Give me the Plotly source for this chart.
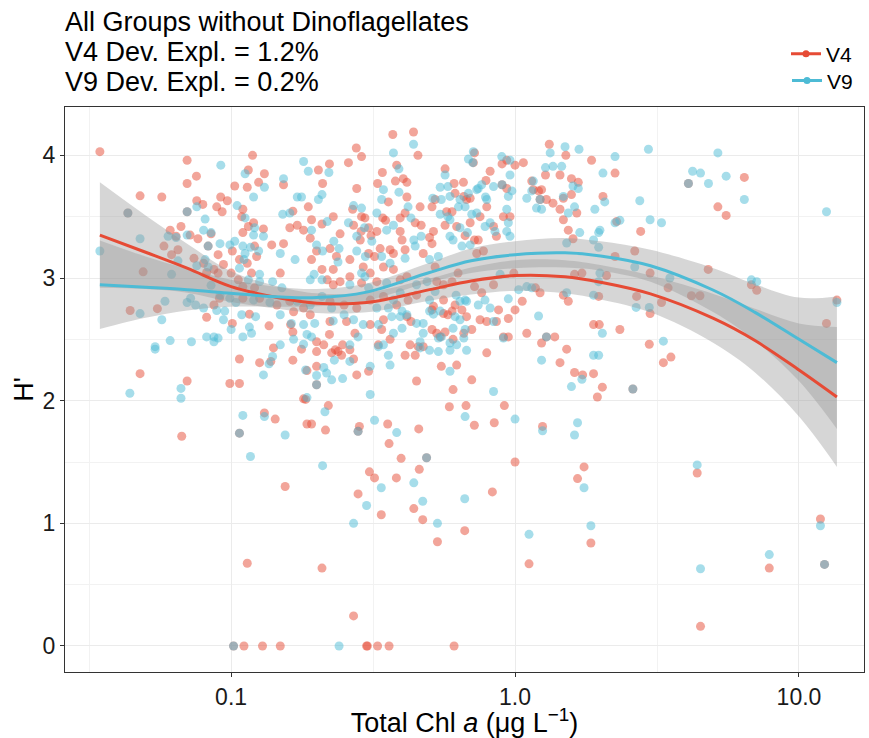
import plotly.graph_objects as go

# ---------------- data ----------------
# V4 points: (Total Chl a, H')
v4_points = [
    (0.0345,4.03),(0.0478,3.67),(0.057,3.66),(0.0433,3.53),(0.058,3.26),(0.049,3.05),(0.0441,2.735),(0.055,2.75),(0.0478,2.22),(0.061,3.39),
    (0.070,3.96),(0.070,3.77),(0.0755,3.83),(0.119,4.00),(0.115,3.88),(0.131,3.85),(0.125,3.78),(0.114,3.74),(0.103,3.75),(0.153,3.76),
    (0.203,3.88),(0.222,3.93),(0.259,3.94),(0.276,4.06),(0.288,3.99),(0.21,3.77),(0.277,3.73),(0.0757,3.63),(0.0795,3.60),(0.0919,3.66),
    (0.097,3.63),(0.089,3.58),(0.093,3.54),(0.11,3.56),(0.109,3.50),(0.115,3.42),(0.12,3.45),(0.130,3.40),(0.0666,3.42),(0.0717,3.35),
    (0.0764,3.32),(0.085,3.36),(0.083,3.26),(0.080,3.12),(0.101,3.22),(0.107,3.15),(0.121,3.26),(0.123,3.175),(0.139,3.27),(0.153,3.28),
    (0.161,3.41),(0.171,3.43),(0.18,3.39),(0.19,3.325),(0.165,3.545),(0.187,3.58),(0.192,3.475),(0.209,3.44),(0.242,3.36),(0.229,3.50),
    (0.192,3.15),(0.2,3.22),(0.223,3.24),(0.235,3.175),(0.262,3.15),(0.27,3.43),(0.287,3.38),(0.285,3.31),(0.288,3.50),(0.268,3.56),
    (0.11,3.37),(0.09,3.19),(0.074,3.16),(0.064,3.34),(0.0617,3.19),(0.065,3.23),(0.070,3.54),
    (0.149,3.04),(0.087,3.07),(0.1,3.04),(0.106,2.985),(0.11,2.93),(0.121,2.92),(0.091,2.835),(0.087,2.78),(0.11,2.835),(0.126,2.835),
    (0.145,2.78),(0.161,2.81),(0.082,2.68),(0.101,2.63),(0.116,2.705),(0.136,2.61),(0.162,2.62),(0.165,2.56),(0.166,2.725),(0.18,2.755),
    (0.19,2.70),(0.223,2.81),(0.25,2.78),(0.277,2.755),(0.223,2.645),(0.255,2.645),(0.273,2.55),(0.209,3.07),(0.229,3.07),(0.218,2.985),
    (0.229,2.945),(0.242,2.97),(0.262,3.01),(0.288,2.96),(0.292,3.09),(0.09,3.04),(0.082,3.045),(0.094,3.11),(0.118,3.04),(0.114,3.12),
    (0.107,2.34),(0.099,2.14),(0.107,2.14),(0.07,2.16),(0.126,2.31),(0.138,2.32),(0.141,2.43),(0.177,2.42),(0.2,2.48),(0.2,2.40),
    (0.212,2.455),(0.222,2.54),(0.226,2.39),(0.233,2.415),(0.238,2.40),(0.247,2.455),(0.245,2.37),(0.262,2.415),(0.277,2.21),(0.165,2.33),
    (0.185,2.245),(0.2,2.28),(0.2,2.13),(0.183,2.01),(0.27,2.34),
    (0.371,4.17),(0.439,4.19),(0.455,4.0),(0.341,3.86),(0.383,3.92),(0.379,3.79),(0.404,3.81),(0.328,3.77),(0.416,3.78),(0.416,3.66),
    (0.358,3.62),(0.463,3.58),(0.305,3.41),(0.296,3.49),(0.342,3.49),(0.35,3.47),(0.311,3.345),(0.326,3.38),(0.394,3.49),(0.41,3.53),
    (0.445,3.45),(0.467,3.43),(0.5,3.33),(0.394,3.38),(0.4,3.31),(0.363,3.23),(0.335,3.24),(0.305,3.20),(0.32,3.175),(0.373,3.20),
    (0.41,3.23),(0.475,3.20),(0.51,3.28),(0.523,3.64),(0.51,3.58),(0.567,3.89),(0.61,3.77),(0.658,3.78),(0.615,3.69),(0.713,3.94),
    (0.72,4.02),(0.817,3.87),(0.79,3.795),(0.66,3.665),(0.675,3.64),(0.574,3.54),(0.6,3.54),(0.753,3.50),(0.695,3.45),(0.623,3.42),
    (0.567,3.43),(0.516,3.38),(0.667,3.345),(0.72,3.31),(0.742,3.31),(0.733,3.20),(0.774,3.22),(0.795,3.58),(0.91,3.50),(0.96,3.50),
    (0.84,3.42),(0.86,3.34),(0.935,3.96),(1.0,3.92),(0.9,3.76),(1.07,3.94),(1.32,4.09),(1.51,4.0),(1.28,3.84),(1.44,3.84),
    (1.16,3.72),(1.24,3.72),(1.225,3.64),(1.29,3.64),(1.36,3.61),(1.44,3.56),(1.48,3.475),(0.9,3.93),(0.695,3.65),(1.145,3.79),
    (1.21,3.71),(0.935,3.73),
    (0.309,3.04),(0.326,2.97),(0.394,2.985),(0.416,3.01),(0.53,2.97),(0.56,2.945),(0.344,3.09),(0.373,3.07),(0.523,3.09),(0.516,2.77),
    (0.56,2.82),(0.6,2.97),(0.63,3.04),(0.72,2.93),(0.763,2.88),(0.84,2.945),(0.99,3.04),(0.45,2.86),(0.42,2.82),(0.344,2.85),
    (0.309,2.82),(0.383,2.78),(1.18,2.92),(1.225,2.88),(1.06,2.81),(1.0,2.74),(1.48,2.86),(1.29,2.52),(1.38,2.52),(1.24,2.47),
    (1.44,2.31),(0.947,2.52),(0.795,2.39),(0.86,2.645),(0.947,2.67),(0.753,2.66),(0.795,2.645),(0.675,2.685),(0.545,2.52),(0.567,2.56),
    (0.51,2.58),(0.475,2.44),(0.416,2.685),(0.43,2.645),(0.339,2.58),(0.344,2.66),(0.363,2.50),(0.427,2.455),(0.41,2.37),(0.305,2.24),
    (0.45,2.16),(0.55,2.28),(0.623,2.29),(0.704,2.17),(0.605,2.09),(0.309,2.62),(0.33,2.455),(0.456,2.44),(0.53,2.55),(0.56,2.71),
    (0.58,2.70),(0.6,2.73),(0.615,2.78),(0.65,2.74),(0.605,2.50),(0.66,2.55),(0.704,2.58),(0.875,2.74),(0.91,2.52),(1.1,2.55),
    (0.51,2.74),(0.445,2.37),
    (1.86,3.96),(2.25,3.855),(1.58,3.81),(1.67,3.78),(1.58,3.68),(1.65,3.53),(2.04,3.665),(1.54,3.39),(1.6,3.32),(2.28,3.46),
    (2.77,3.38),(2.25,3.175),(2.64,3.22),(2.99,3.04),(3.46,2.92),(4.79,3.07),(4.18,2.855),(4.48,2.855),(1.62,3.03),(1.72,3.04),
    (1.54,2.81),(1.97,2.85),(2.68,2.85),(2.99,2.71),(3.28,2.80),(1.89,2.62),(1.98,2.62),(2.34,2.58),(1.52,2.42),(2.97,2.46),
    (3.33,2.31),(3.54,2.355),(1.62,2.23),(1.73,2.21),(1.89,2.22),(2.03,2.11),(1.95,2.03),(2.1,3.02),(2.6,2.095),(1.48,3.65),
    (5.18,3.58),(5.54,3.51),(6.42,3.82),(4.08,3.77),(6.8,2.945),(7.1,2.90),(13.6,2.82),(12.5,2.63),
    (0.107,1.735),(0.067,1.71),(0.131,1.90),(0.143,1.85),(0.155,1.30),(0.114,0.675),(0.209,0.635),(0.18,2.015),(0.22,1.96),(0.185,1.81),
    (0.192,1.81),(0.215,1.76),(0.27,0.245),(0.28,1.24),(0.283,1.79),(0.28,1.75),(0.307,1.42),(0.32,1.37),(0.338,1.07),(0.356,1.81),
    (0.36,1.65),(0.397,1.53),(0.382,1.37),(0.458,1.77),(0.488,1.535),(0.46,1.44),(0.44,1.12),(0.473,1.03),(0.533,0.85),(0.587,1.95),
    (0.672,1.96),(0.917,1.96),(0.719,1.80),(0.845,1.82),(1.25,1.79),(1.0,1.50),(1.75,1.46),(1.66,1.365),(0.832,1.256),(0.665,0.94),
    (1.12,0.67),(1.85,0.84),(4.38,1.41),(4.5,0.16),(7.86,0.635),(11.9,1.035),(12.3,0.665),
    (0.102,0),(0.111,0),(0.129,0),(0.149,0),(0.30,0),(0.302,0),(0.328,0),(0.36,0),(0.61,0),
]

# V9 points: (Total Chl a, H')
v9_points = [
    (0.0345,3.22),(0.0433,3.53),(0.0478,3.32),(0.0478,2.71),(0.057,2.66),(0.054,2.44),(0.054,2.42),(0.044,2.06),(0.0585,2.81),(0.06,3.34),
    (0.061,2.49),(0.0617,3.03),
    (0.092,3.92),(0.112,3.85),(0.105,3.59),(0.112,3.49),(0.11,3.26),(0.112,3.20),(0.12,3.35),(0.12,3.66),(0.131,3.74),(0.152,3.52),
    (0.153,3.81),(0.171,3.66),(0.177,3.66),(0.161,3.53),(0.18,3.95),(0.187,3.87),(0.221,3.86),(0.203,3.64),(0.209,3.68),(0.149,3.20),
    (0.21,3.22),(0.23,3.30),(0.27,3.59),(0.277,3.34),(0.259,3.45),(0.0757,3.58),(0.081,3.48),(0.08,3.39),(0.085,3.37),(0.083,3.26),
    (0.081,3.15),(0.0914,3.28),(0.065,3.14),(0.07,3.35),(0.07,3.54),(0.064,3.33),(0.103,3.30),(0.099,3.27),(0.117,3.25),(0.111,3.15),
    (0.121,3.41),(0.125,3.22),(0.13,3.34),(0.168,3.15),(0.192,3.39),(0.218,3.46),(0.295,3.41),(0.2,3.27),(0.24,3.24),(0.238,3.13),
    (0.277,3.22),(0.297,3.175),(0.288,3.57),
    (0.126,3.03),(0.14,2.97),(0.19,2.985),(0.209,2.985),(0.196,3.03),(0.262,2.945),(0.288,3.04),(0.107,3.08),(0.115,2.985),(0.126,2.97),
    (0.151,2.92),(0.072,2.835),(0.08,2.755),(0.099,2.835),(0.104,2.80),(0.12,2.82),(0.137,2.80),(0.149,2.70),(0.171,2.81),(0.19,2.78),
    (0.209,2.85),(0.226,2.755),(0.25,2.70),(0.27,2.66),(0.292,2.62),(0.163,2.63),(0.18,2.62),(0.197,2.63),(0.094,2.66),(0.1,2.58),
    (0.095,2.73),(0.089,2.735),(0.116,2.60),(0.118,2.55),(0.11,2.52),(0.109,2.70),(0.122,2.685),(0.082,2.52),(0.087,2.52),(0.087,2.48),
    (0.09,2.51),(0.0725,2.48),(0.0666,2.10),(0.0666,2.02),(0.13,2.21),(0.136,2.30),(0.14,2.36),(0.149,2.455),(0.166,2.50),(0.18,2.46),
    (0.185,2.54),(0.192,2.52),(0.183,2.25),(0.2,2.205),(0.212,2.27),(0.217,2.225),(0.226,2.17),(0.247,2.18),(0.231,2.33),(0.262,2.32),
    (0.185,2.025),(0.075,2.78),(0.07,2.80),(0.085,2.94),(0.0914,2.86),(0.229,2.65),(0.262,2.455),(0.28,2.52),(0.0757,3.10),(0.083,3.09),
    (0.2,2.13),
    (0.373,4.02),(0.439,4.09),(0.39,3.89),(0.344,3.72),(0.39,3.70),(0.339,3.64),(0.42,3.58),(0.326,3.53),(0.353,3.39),(0.373,3.43),
    (0.43,3.49),(0.467,3.34),(0.44,3.31),(0.313,3.30),(0.339,3.175),(0.363,3.12),(0.41,3.16),(0.445,3.26),(0.5,3.15),(0.537,3.175),
    (0.513,3.65),(0.55,3.64),(0.59,3.665),(0.567,3.84),(0.685,3.69),(0.64,3.64),(0.58,3.745),(0.545,3.74),(0.685,3.97),(0.713,4.03),
    (0.742,3.73),(0.763,3.76),(0.632,3.58),(0.667,3.58),(0.704,3.52),(0.733,3.53),(0.64,3.41),(0.68,3.37),(0.59,3.475),(0.545,3.52),
    (0.58,3.50),(0.59,3.34),(0.605,3.31),(0.65,3.26),(0.695,3.27),(0.784,3.42),(0.817,3.45),(0.795,3.64),(0.84,3.745),(0.85,3.38),
    (0.935,3.38),(0.96,3.34),(0.935,3.56),(0.947,3.45),(0.898,3.99),(0.96,3.96),(0.9,3.76),(0.975,3.71),(1.33,4.02),(1.5,4.07),
    (1.28,3.90),(1.36,3.91),(1.46,3.91),(1.16,3.79),(1.145,3.71),(1.1,3.65),(1.225,3.64),(1.19,3.57),(1.24,3.56),(1.48,3.665),
    (0.71,3.94),(0.96,3.84),(0.733,3.72),(0.787,3.66),(0.947,3.665),
    (0.296,3.01),(0.353,2.96),(0.45,2.945),(0.49,2.97),(0.5,2.82),(0.523,2.89),(0.62,2.86),(0.667,2.82),(0.784,2.82),(0.886,3.03),
    (0.394,2.88),(0.373,2.82),(0.326,2.755),(0.358,2.755),(1.21,2.69),(1.29,2.52),(1.24,2.33),(0.91,2.51),(0.84,2.075),(0.947,2.83),
    (1.03,2.905),(1.1,2.93),(0.742,2.78),(0.615,2.685),(0.64,2.66),(0.667,2.58),(0.59,2.47),(0.623,2.455),(0.537,2.51),(0.463,2.43),
    (0.45,2.63),(0.475,2.63),(0.368,2.685),(0.394,2.685),(0.33,2.44),(0.344,2.455),(0.4,2.59),(0.358,2.37),(0.363,2.29),(0.309,2.28),
    (0.59,2.24),(0.675,2.41),(0.309,2.05),(0.33,2.62),(0.373,2.55),(0.4,2.73),(0.416,2.70),(0.475,2.55),(0.463,2.48),(0.55,2.52),
    (0.59,2.41),(0.605,2.59),(0.64,2.81),(0.675,2.81),(0.66,2.51),(0.817,2.755),(0.84,2.645),(1.145,2.92),(0.545,2.73),(0.516,2.705),
    (0.5,2.73),(0.5,2.41),(0.537,2.40),(0.305,2.92),
    (1.68,4.05),(2.25,3.99),(2.95,4.05),(2.04,3.855),(1.6,3.75),(1.67,3.73),(2.07,3.62),(1.62,3.58),(1.54,3.53),(1.91,3.56),
    (2.75,3.63),(2.99,3.475),(3.28,3.45),(2.25,3.45),(2.34,3.47),(1.69,3.37),(1.89,3.31),(1.97,3.37),(1.99,3.39),(1.52,3.285),
    (1.97,3.25),(2.64,3.09),(3.51,3.0),(1.99,3.04),(1.97,2.97),(1.52,2.88),(1.89,2.86),(2.67,2.76),(2.97,2.76),(2.03,2.55),
    (3.33,2.485),(1.89,2.37),(1.97,2.37),(1.72,2.175),(1.58,2.115),(2.6,2.095),
    (5.18,4.02),(4.22,3.87),(4.5,3.855),(4.8,3.77),(5.54,3.83),(6.42,3.64),(12.5,3.54),(6.8,2.985),(7.1,2.97),(13.6,2.80),(4.08,3.77),
    (0.11,1.88),(0.107,1.735),(0.117,1.545),(0.131,1.87),(0.155,1.72),(0.214,1.91),(0.21,1.47),(0.27,1.0),(0.32,1.84),(0.338,1.29),
    (0.30,1.145),(0.383,1.74),(0.44,1.33),(0.473,1.18),(0.533,1.0),(0.665,1.20),(1.0,1.85),(1.25,1.755),(1.66,1.82),(1.62,1.72),
    (1.75,1.29),(1.12,0.91),(1.85,0.98),(4.38,1.476),(4.5,0.63),(7.86,0.745),(11.9,0.98),(0.667,1.87),(0.28,1.75),(0.488,1.535),
    (12.3,0.665),(0.102,0),(0.24,0),
]

# GAM smooth curves and 95% band half-widths
fit_chl = [0.0345, 0.05, 0.07, 0.1, 0.15, 0.2, 0.3, 0.5, 0.7, 1.0, 1.5, 2, 3, 5, 7, 10, 13.6]
v4_fit  = [3.35, 3.21, 3.08, 2.93, 2.835, 2.795, 2.80, 2.905, 2.975, 3.02, 3.01, 2.965, 2.87, 2.67, 2.49, 2.25, 2.03]
v4_half = [0.43, 0.30, 0.20, 0.125, 0.09, 0.08, 0.08, 0.09, 0.11, 0.125, 0.135, 0.14, 0.15, 0.20, 0.26, 0.38, 0.57]
v9_fit  = [2.945, 2.925, 2.905, 2.875, 2.845, 2.84, 2.885, 3.045, 3.14, 3.19, 3.205, 3.18, 3.10, 2.90, 2.72, 2.50, 2.31]
v9_half = [0.36, 0.25, 0.17, 0.11, 0.08, 0.07, 0.07, 0.08, 0.10, 0.11, 0.12, 0.12, 0.13, 0.18, 0.23, 0.34, 0.54]

series_names = ["V4", "V9"]
title_lines = ["All Groups without Dinoflagellates",
               "V4 Dev. Expl. = 1.2%",
               "V9 Dev. Expl. = 0.2%"]
x_tickvals = [0.1, 1, 10]
x_ticktext = ["0.1", "1.0", "10.0"]
y_tickvals = [0, 1, 2, 3, 4]

# ---------------- styling ----------------
RED = "#E64B35"
BLUE = "#4DBBD5"
BAND = "rgba(153,153,153,0.4)"
FONT = "Liberation Sans, Arial, Helvetica, sans-serif"

fig = go.Figure()

for name, pts, col in [("V4", v4_points, RED), ("V9", v9_points, BLUE)]:
    xs = [p[0] for p in pts]
    ys = [p[1] for p in pts]
    fig.add_trace(go.Scatter(x=xs, y=ys, mode="markers", showlegend=False,
                             marker=dict(size=9, color=col, opacity=0.5, line=dict(width=0)),
                             hoverinfo="skip"))

# confidence bands
for fit, half in [(v4_fit, v4_half), (v9_fit, v9_half)]:
    lo = [f - h for f, h in zip(fit, half)]
    hi = [f + h for f, h in zip(fit, half)]
    fig.add_trace(go.Scatter(x=fit_chl, y=lo, mode="lines", line=dict(width=0, shape="spline", smoothing=1.0),
                             showlegend=False, hoverinfo="skip"))
    fig.add_trace(go.Scatter(x=fit_chl, y=hi, mode="lines", line=dict(width=0, shape="spline", smoothing=1.0),
                             fill="tonexty", fillcolor=BAND, showlegend=False, hoverinfo="skip"))

# fitted lines
for name, fit, col in [("V4", v4_fit, RED), ("V9", v9_fit, BLUE)]:
    fig.add_trace(go.Scatter(x=fit_chl, y=fit, mode="lines", showlegend=False,
                             line=dict(color=col, width=3, shape="spline", smoothing=1.0), hoverinfo="skip"))

# legend entries (line + point like ggplot keys), one legend box per entry
for name, col, leg in [("V4", RED, "legend"), ("V9", BLUE, "legend2")]:
    fig.add_trace(go.Scatter(x=[None], y=[None], mode="lines+markers", name=name,
                             legend=leg,
                             line=dict(color=col, width=3),
                             marker=dict(color=col, size=7)))

# title lines as annotations (tight line spacing like ggplot)
title_y = [1.150, 1.0975, 1.0445]
for txt, yy in zip(title_lines, title_y):
    fig.add_annotation(text=txt, xref="paper", yref="paper", x=-0.002, y=yy,
                       xanchor="left", yanchor="middle", showarrow=False,
                       font=dict(family=FONT, size=27, color="black"))

axis_common = dict(showline=True, mirror=True, linecolor="#333333", linewidth=1,
                   ticks="outside", ticklen=4, tickcolor="#333333", tickwidth=1,
                   showgrid=True, gridcolor="#EBEBEB", gridwidth=1.3, zeroline=False,
                   tickfont=dict(family=FONT, size=23, color="#1a1a1a"))

legend_common = dict(x=0.9925, xanchor="right", yanchor="top",
                     font=dict(family=FONT, size=21, color="black"),
                     bgcolor="rgba(0,0,0,0)", itemwidth=30, traceorder="normal")

fig.update_layout(
    width=869, height=738,
    margin=dict(l=65, r=5, t=107, b=66, autoexpand=False),
    paper_bgcolor="white", plot_bgcolor="white",
    font=dict(family=FONT, color="black"),
    showlegend=True,
    legend=dict(y=1.13, **legend_common),
    legend2=dict(y=1.0825, **legend_common),
    xaxis=dict(type="log", range=[-1.585, 1.229], tickmode="array",
               tickvals=x_tickvals, ticktext=x_ticktext,
               minor=dict(tickmode="array", tickvals=[10 ** -1.5, 10 ** -0.5, 10 ** 0.5],
                          showgrid=True, gridcolor="#F2F2F2", gridwidth=0.8, ticks=""),
               title=dict(text="Total Chl <i>a</i> (μg L<sup>−1</sup>)",
                          font=dict(family=FONT, size=27, color="black"), standoff=6),
               **axis_common),
    yaxis=dict(range=[-0.212, 4.394], tickmode="array", tickvals=y_tickvals,
               minor=dict(tickmode="array", tickvals=[0.5, 1.5, 2.5, 3.5],
                          showgrid=True, gridcolor="#F2F2F2", gridwidth=0.8, ticks=""),
               title=dict(text="H'", font=dict(family=FONT, size=27, color="black"), standoff=1),
               **axis_common),
)

fig.write_html("out.html")
